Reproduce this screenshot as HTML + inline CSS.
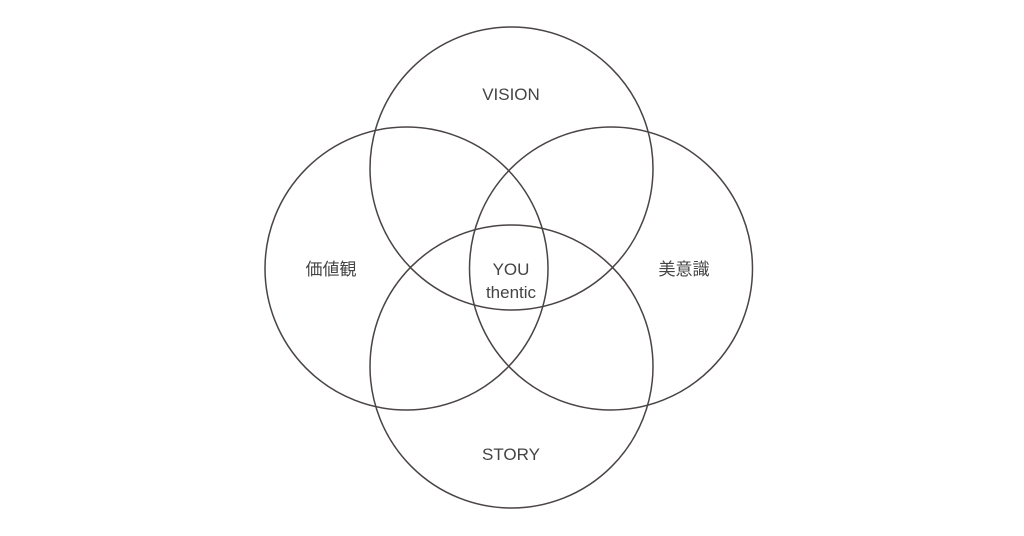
<!DOCTYPE html>
<html><head><meta charset="utf-8"><style>
html,body{margin:0;padding:0;background:#fff;}
svg{display:block}
text{font-family:"Liberation Sans","Noto Sans CJK JP",sans-serif;font-size:17px;fill:#444;text-anchor:middle;}
</style></head><body>
<svg width="1024" height="536" viewBox="0 0 1024 536">
<g fill="none" stroke="#4a4444" stroke-width="1.5">
<circle cx="511.5" cy="168.5" r="141.5"/>
<circle cx="406.5" cy="268.5" r="141.5"/>
<circle cx="611" cy="268.5" r="141.5"/>
<circle cx="511.5" cy="366.5" r="141.5"/>
</g>
<text x="511" y="100">VISION</text>
<text x="331" y="275">価値観</text>
<text x="684" y="275">美意識</text>
<text x="511" y="460">STORY</text>
<text x="511" y="275">YOU</text>
<text x="511" y="298">thentic</text>
</svg>
</body></html>
